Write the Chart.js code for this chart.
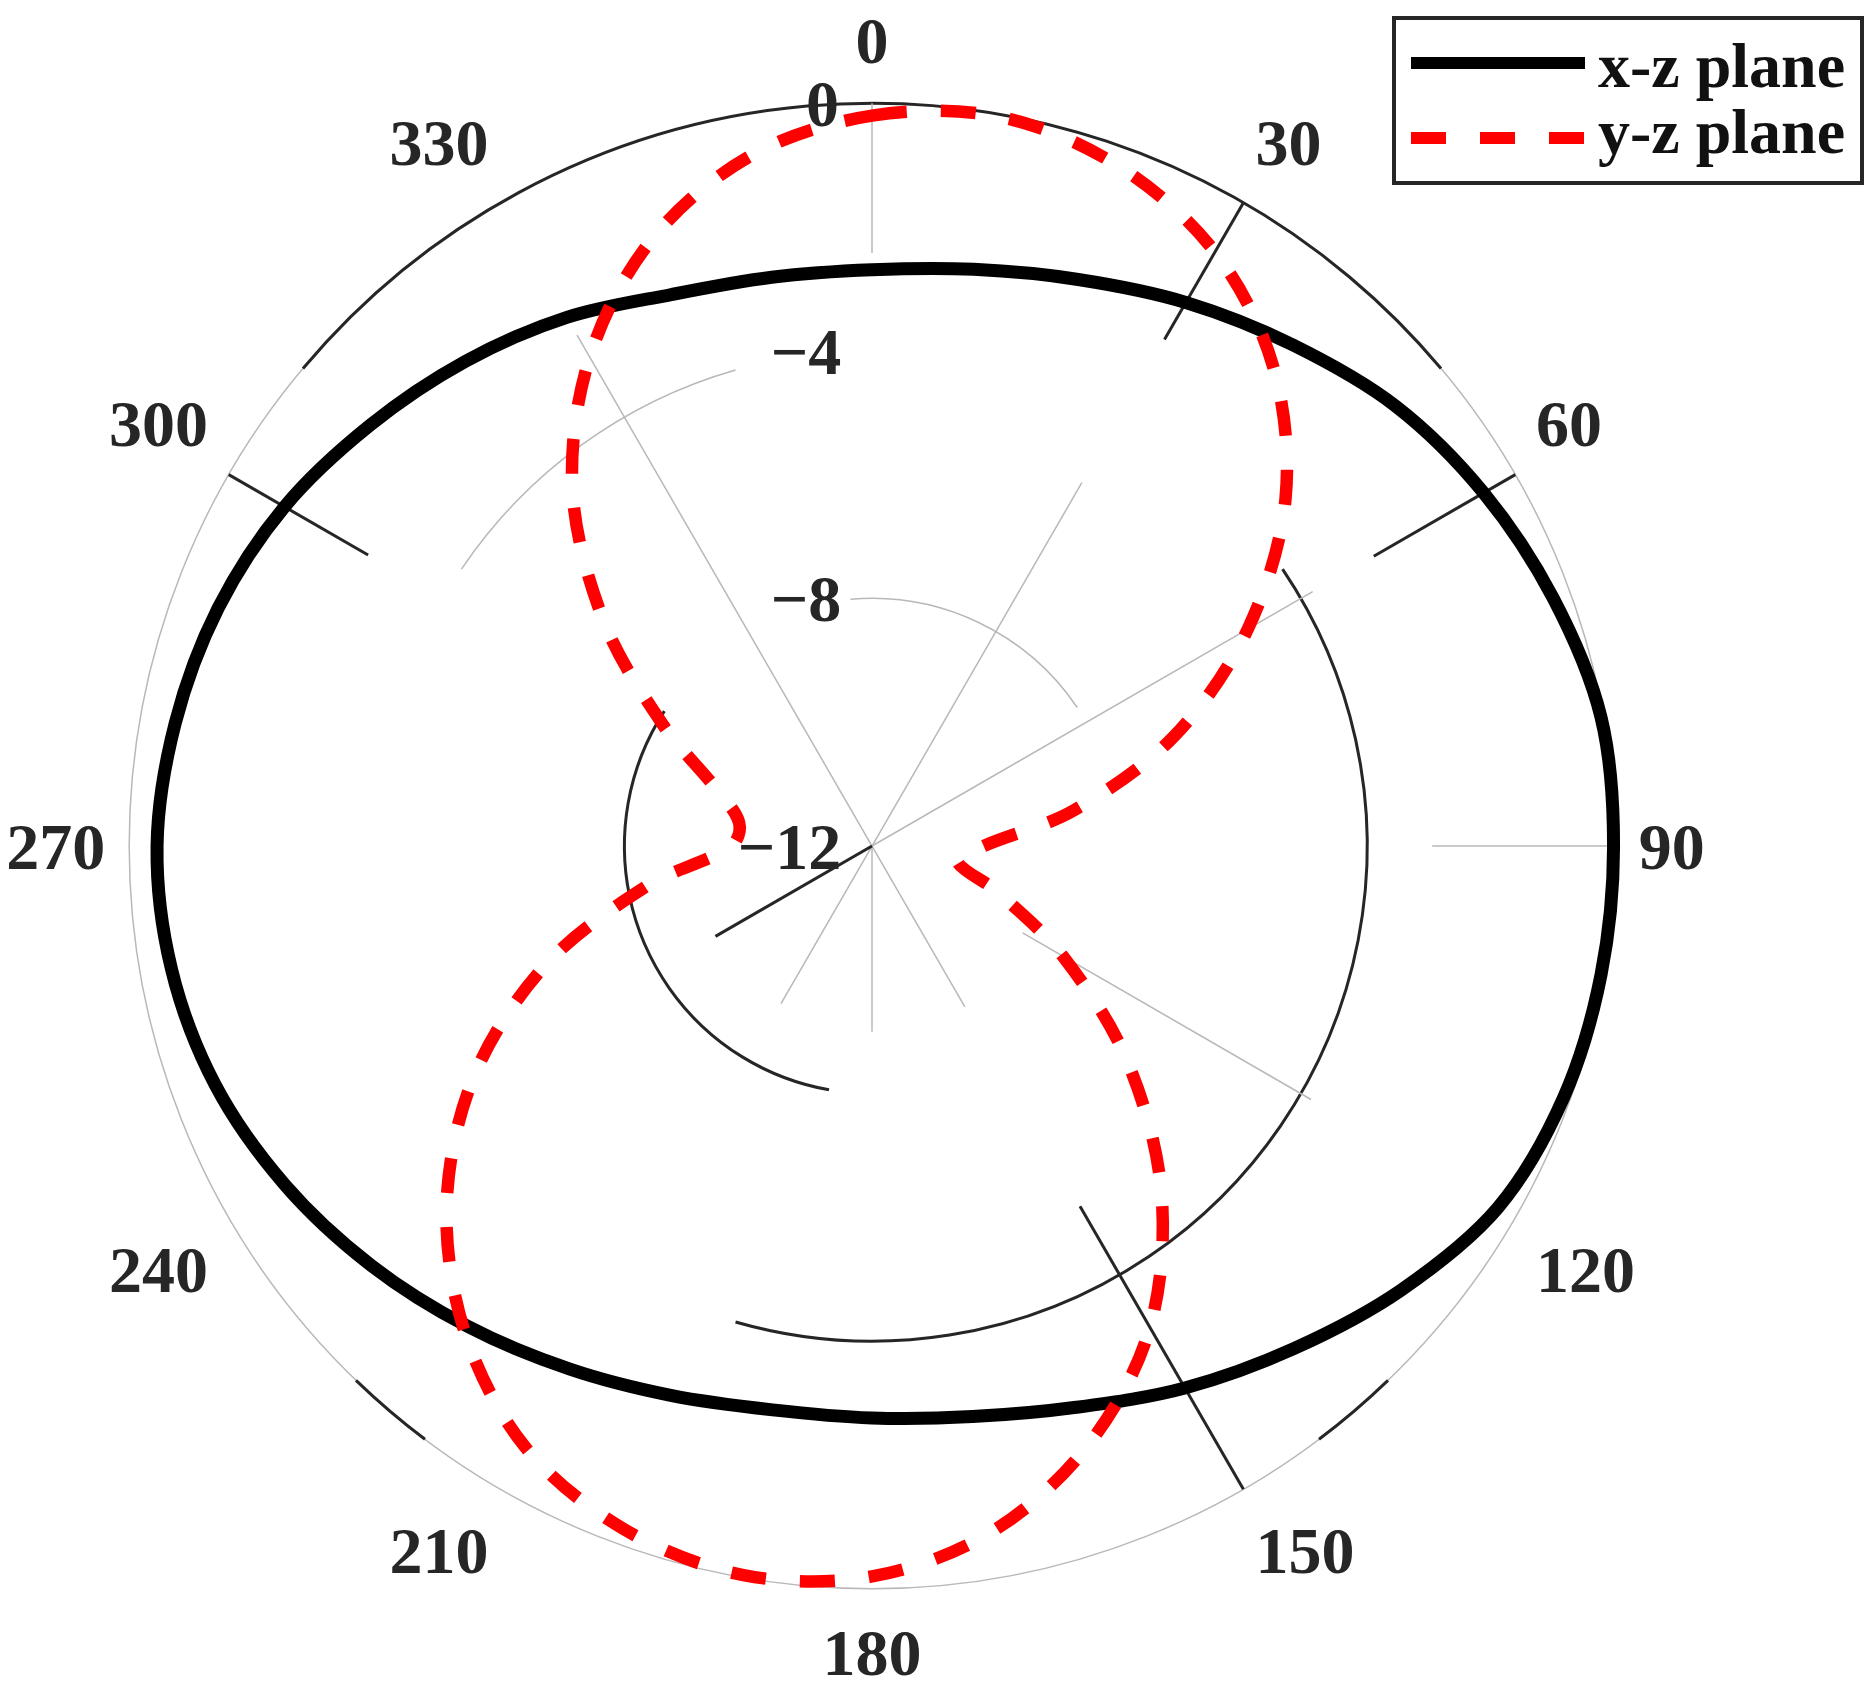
<!DOCTYPE html>
<html>
<head>
<meta charset="utf-8">
<title>Radiation pattern</title>
<script src="https://cdn.jsdelivr.net/npm/chart.js@4.4.1/dist/chart.umd.min.js"></script>
<style>
  html, body { margin: 0; padding: 0; background: #fff; }
  #wrap { width: 1876px; height: 1693px; position: relative; }
</style>
</head>
<body>
<div id="wrap"><canvas id="patternChart"></canvas></div>
<script>
// angle in degrees, clockwise from the top
const angles = [0, 10, 20, 30, 40, 50, 60, 70, 80, 90, 100, 110, 120, 130, 140, 150, 160, 170,
  180, 190, 200, 210, 220, 230, 240, 250, 260, 270, 280, 290, 300, 310, 320, 330, 340, 350];

// normalised gain in dB
const xzPlane = [-2.69, -2.54, -2.26, -1.86, -1.43, -0.95, -0.59, -0.29, -0.04, -0.02, -0.04, -0.11,
  -0.32, -0.84, -1.40, -1.89, -2.35, -2.64, -2.76, -2.75, -2.55, -2.24, -1.86, -1.45,
  -1.05, -0.71, -0.51, -0.45, -0.57, -0.76, -1.04, -1.42, -1.78, -2.14, -2.52, -2.67];
const yzPlane = [-0.20, -0.04, -0.32, -0.92, -1.91, -3.28, -4.99, -6.80, -8.69, -10.2, -10.6, -9.85,
  -8.44, -6.63, -4.73, -3.02, -1.73, -0.76, -0.20, -0.04, -0.26, -0.79, -1.76, -3.03,
  -4.58, -6.39, -8.32, -9.73, -9.82, -9.33, -8.11, -6.34, -4.47, -2.88, -1.58, -0.68];

const seriesNames = ["x-z plane", "y-z plane"];
const rTicks = [-12, -8, -4, 0];
const angleTicks = [0, 30, 60, 90, 120, 150, 180, 210, 240, 270, 300, 330];

const INK = "#262626";
const GRAY = "#b8b8b8";
const serif = "'Liberation Serif', 'Times New Roman', serif";

// the grid in the original is only partly drawn: [value, from deg, to deg, dark]
const ringArcs = [
  [0, 0, 360, false], [-4, 304, 344, false], [-8, 355, 416, false],
  [0, 310, 410, true], [0, 217, 224, true], [0, 136, 143, true],
  [-4, 56, 196, true], [-8, 190, 303, true]
];
// [angle, from value, to value, dark]
const spokes = [
  [0, -2.42, 0, false], [30, -12, -5.22, false], [60, -12, -3.78, false],
  [90, -2.95, -0.1, false], [120, -9.19, -3.81, false], [150, -12, -9.0, false],
  [180, -12, -9.0, false], [210, -12, -9.06, false], [330, -12, -2.47, false],
  [30, -2.55, 0, true], [60, -2.64, 0, true], [150, -5.28, 0, true],
  [240, -12, -9.08, true], [300, -2.6, 0, true]
];

function fmtDb(v) {
  const s = v < 0 ? "\u2212" + Math.abs(v) : String(v);
  // trailing blanks push the centred label to the left of the axis
  return s + " ".repeat(2 * s.length + 4);
}

function fmtAngle(lbl) {
  const a = Number(lbl);
  if (!angleTicks.includes(a)) return "";
  // the 90 label gets two trailing blanks so it weighs as much as 270 when the scale is fitted
  return a === 90 ? "90  " : String(a);
}

const gridPlugin = {
  id: "partialGrid",
  beforeDraw(chart) {
    const s = chart.scales.r;
    const ctx = chart.ctx;
    const rad = (d) => (d - 90) * Math.PI / 180;
    ctx.save();
    ctx.fillStyle = "#fff";
    ctx.fillRect(0, 0, chart.width, chart.height);
    ctx.lineCap = "butt";
    ringArcs.forEach(([v, a0, a1, dark]) => {
      ctx.beginPath();
      ctx.arc(s.xCenter, s.yCenter, s.getDistanceFromCenterForValue(v), rad(a0), rad(a1));
      ctx.strokeStyle = dark ? INK : GRAY;
      ctx.lineWidth = dark ? 3 : 1.5;
      ctx.stroke();
    });
    spokes.forEach(([a, v0, v1, dark]) => {
      const r0 = s.getDistanceFromCenterForValue(v0);
      const r1 = s.getDistanceFromCenterForValue(v1);
      const c = Math.cos(rad(a)), sn = Math.sin(rad(a));
      ctx.beginPath();
      ctx.moveTo(s.xCenter + r0 * c, s.yCenter + r0 * sn);
      ctx.lineTo(s.xCenter + r1 * c, s.yCenter + r1 * sn);
      ctx.strokeStyle = dark ? INK : GRAY;
      ctx.lineWidth = dark ? 3 : 1.5;
      ctx.stroke();
    });
    ctx.restore();
    // scale text sits a little lower in the original
    ctx.save();
    ctx.translate(0, 6);
  },
  beforeDatasetsDraw(chart) {
    chart.ctx.restore();
  }
};

const boxLegend = {
  id: "boxLegend",
  afterDraw(chart) {
    const ctx = chart.ctx;
    const lineY = [63, 138];
    const textY = [87, 153];
    ctx.save();
    ctx.fillStyle = "#fff";
    ctx.fillRect(1394, 18, 468, 165);
    ctx.lineWidth = 4;
    ctx.strokeStyle = INK;
    ctx.strokeRect(1394, 18, 468, 165);
    chart.data.datasets.forEach((ds, i) => {
      ctx.beginPath();
      ctx.setLineDash(ds.borderDash || []);
      ctx.lineCap = "butt";
      ctx.lineWidth = 12;
      ctx.strokeStyle = ds.borderColor;
      ctx.moveTo(1411, lineY[i]);
      ctx.lineTo(1585, lineY[i]);
      ctx.stroke();
      ctx.setLineDash([]);
      ctx.fillStyle = "#111";
      ctx.font = "bold 64px " + serif;
      ctx.textAlign = "left";
      ctx.textBaseline = "alphabetic";
      ctx.fillText(ds.label, 1598, textY[i]);
    });
    ctx.restore();
  }
};

new Chart(document.getElementById("patternChart"), {
  type: "radar",
  data: {
    labels: angles,
    datasets: [
      {
        label: seriesNames[0],
        data: xzPlane,
        borderColor: "#000000",
        borderWidth: 13,
        pointRadius: 0,
        fill: false,
        tension: 0.33,
        order: 1
      },
      {
        label: seriesNames[1],
        data: yzPlane,
        borderColor: "#ff0000",
        borderWidth: 12.5,
        borderDash: [35, 34],
        borderCapStyle: "butt",
        pointRadius: 0,
        fill: false,
        tension: 0.33,
        order: 0
      }
    ]
  },
  options: {
    responsive: true,
    maintainAspectRatio: false,
    animation: false,
    layout: { padding: { left: 0, right: 132, top: 0, bottom: 0 } },
    plugins: {
      legend: { display: false },
      tooltip: { enabled: false }
    },
    scales: {
      r: {
        min: rTicks[0],
        max: rTicks[rTicks.length - 1],
        startAngle: 0,
        grid: { display: false },
        angleLines: { display: false },
        afterBuildTicks: (scale) => {
          scale.ticks = rTicks.map((v) => ({ value: v }));
        },
        ticks: {
          color: INK,
          font: { family: serif, size: 66, weight: "bold" },
          showLabelBackdrop: false,
          // no backdrop is drawn; this keeps it from reserving room
          backdropPadding: -33,
          callback: (v) => fmtDb(v)
        },
        pointLabels: {
          color: INK,
          font: { family: serif, size: 66, weight: "bold", lineHeight: 1.2 },
          padding: 24,
          callback: fmtAngle
        }
      }
    }
  },
  plugins: [gridPlugin, boxLegend]
});
</script>
</body>
</html>
